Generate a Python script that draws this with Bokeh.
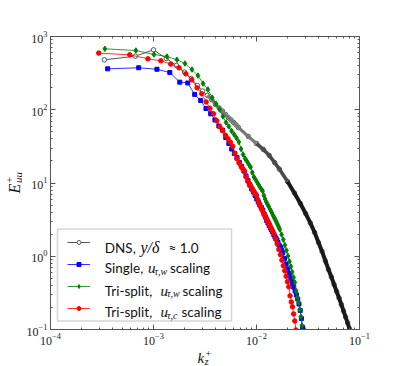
import math
from bokeh.plotting import figure
from bokeh.layouts import row, column
from bokeh.models import (LogAxis, LogTicker, Label, BoxAnnotation, Legend, LegendItem,
                          CustomJSTickFormatter)
from bokeh.embed import file_html
from bokeh.resources import INLINE

# ---------------- data ----------------
dns_k = [3.33e-4, 6.67e-4, 1.0e-3, 1.33e-3, 1.67e-3, 2.0e-3, 2.33e-3, 2.67e-3, 3.0e-3, 3.33e-3,
         3.67e-3, 4.0e-3, 4.33e-3, 4.67e-3, 5.0e-3, 5.33e-3, 5.67e-3, 6.0e-3, 6.33e-3, 6.67e-3,
         8.33e-3, 0.01, 0.01167, 0.01333, 0.015, 0.01667, 0.02, 0.02333, 0.02667, 0.03,
         0.03333, 0.03667, 0.04, 0.04333, 0.04667, 0.05, 0.05333, 0.05667, 0.06, 0.06333,
         0.06667, 0.07, 0.07333, 0.07667, 0.08, 0.08333]
dns_E = [481, 538, 658, 501, 402, 327, 267, 214, 180, 157,
         138, 118, 106, 96, 86, 78, 72.4, 67, 62, 57.3,
         43.2, 34.6, 28.7, 23.7, 19.0, 15.5, 10.5, 7.30, 5.25, 3.83,
         2.85, 2.11, 1.54, 1.16, 0.861, 0.659, 0.521, 0.411, 0.330, 0.269,
         0.219, 0.179, 0.148, 0.123, 0.102, 0.0855]

single_k = [3.59e-4, 7.18e-4, 1.08e-3, 1.44e-3, 1.80e-3, 2.15e-3, 2.51e-3, 2.87e-3, 3.23e-3, 3.59e-3,
            3.95e-3, 4.31e-3, 4.67e-3, 5.03e-3, 5.39e-3, 5.74e-3, 6.10e-3, 6.46e-3, 6.82e-3, 7.18e-3,
            7.54e-3, 7.90e-3, 8.26e-3, 8.62e-3, 8.98e-3, 9.33e-3, 9.69e-3, 1.005e-2, 1.041e-2, 1.077e-2,
            1.113e-2, 1.149e-2, 1.185e-2, 1.221e-2, 1.257e-2, 1.292e-2, 1.328e-2, 1.364e-2, 1.400e-2, 1.436e-2,
            1.472e-2, 1.508e-2, 1.544e-2, 1.580e-2, 1.616e-2, 1.651e-2, 1.687e-2, 1.723e-2, 1.759e-2, 1.795e-2,
            1.867e-2, 1.939e-2, 2.010e-2, 2.082e-2, 2.154e-2, 2.226e-2, 2.298e-2, 2.369e-2, 2.441e-2, 2.513e-2,
            2.585e-2, 2.657e-2, 2.728e-2, 2.800e-2]
single_E = [362, 374, 357, 322, 238, 232, 162, 134, 104, 88.0,
            72.5, 60.0, 52.9, 41.8, 34.6, 29.1, 25.3, 22.3, 19.1, 16.8,
            14.6, 12.5, 10.8, 9.39, 8.28, 7.54, 6.75, 6.05, 5.50, 5.01,
            4.63, 4.28, 3.77, 3.43, 3.08, 2.84, 2.63, 2.43, 2.28, 2.14,
            1.98, 1.86, 1.75, 1.67, 1.54, 1.42, 1.36, 1.30, 1.20, 1.11,
            0.932, 0.784, 0.670, 0.582, 0.505, 0.438, 0.380, 0.335, 0.296, 0.261,
            0.223, 0.182, 0.141, 0.107]

triw_k = [3.37e-4, 6.74e-4, 1.01e-3, 1.35e-3, 1.69e-3, 2.02e-3, 2.36e-3, 2.70e-3, 3.03e-3, 3.37e-3,
          3.71e-3, 4.04e-3, 4.38e-3, 4.72e-3, 5.06e-3, 5.39e-3, 5.73e-3, 6.07e-3, 6.40e-3, 6.74e-3,
          7.08e-3, 7.41e-3, 7.75e-3, 8.09e-3, 8.43e-3, 8.76e-3, 9.10e-3, 9.44e-3, 9.77e-3, 1.011e-2,
          1.045e-2, 1.078e-2, 1.112e-2, 1.146e-2, 1.180e-2, 1.213e-2, 1.247e-2, 1.281e-2, 1.314e-2, 1.348e-2,
          1.382e-2, 1.415e-2, 1.449e-2, 1.483e-2, 1.517e-2, 1.550e-2, 1.584e-2, 1.618e-2, 1.651e-2, 1.685e-2,
          1.752e-2, 1.820e-2, 1.887e-2, 1.955e-2, 2.022e-2, 2.089e-2, 2.157e-2, 2.224e-2, 2.292e-2, 2.359e-2,
          2.426e-2, 2.494e-2, 2.561e-2, 2.629e-2, 2.696e-2, 2.763e-2]
triw_E = [679, 644, 568, 533, 481, 428, 354, 293, 228, 189,
          147, 120.5, 100.8, 80.9, 67.0, 59.1, 51.3, 45.9, 41.1, 36.3,
          29.1, 24.5, 21.6, 19.7, 17.9, 16.5, 13.9, 12.1, 11.2, 10.3,
          9.54, 8.82, 8.28, 7.78, 6.75, 6.05, 5.50, 5.09, 4.78, 4.42,
          4.15, 3.89, 3.60, 3.38, 3.18, 2.98, 2.80, 2.63, 2.47, 2.32,
          1.98, 1.69, 1.42, 1.20, 1.01, 0.848, 0.724, 0.610, 0.513, 0.438,
          0.330, 0.273, 0.234, 0.187, 0.150, 0.113]

tric_k = [2.94e-4, 5.88e-4, 8.83e-4, 1.18e-3, 1.47e-3, 1.77e-3, 2.06e-3, 2.35e-3, 2.65e-3, 2.94e-3,
          3.24e-3, 3.53e-3, 3.82e-3, 4.12e-3, 4.41e-3, 4.71e-3, 5.00e-3, 5.30e-3, 5.59e-3, 5.88e-3,
          6.18e-3, 6.47e-3, 6.77e-3, 7.06e-3, 7.36e-3, 7.65e-3, 7.94e-3, 8.24e-3, 8.53e-3, 8.83e-3,
          9.12e-3, 9.41e-3, 9.71e-3, 1.000e-2, 1.030e-2, 1.059e-2, 1.089e-2, 1.118e-2, 1.147e-2, 1.177e-2,
          1.206e-2, 1.236e-2, 1.265e-2, 1.295e-2, 1.324e-2, 1.353e-2, 1.383e-2, 1.412e-2, 1.442e-2, 1.471e-2,
          1.530e-2, 1.589e-2, 1.648e-2, 1.706e-2, 1.765e-2, 1.824e-2, 1.883e-2, 1.942e-2, 2.001e-2, 2.059e-2,
          2.118e-2, 2.177e-2, 2.236e-2, 2.295e-2, 2.354e-2, 2.412e-2]
tric_E = [593, 562, 496, 465, 420, 374, 309, 256, 199, 165,
          128, 105, 88.0, 70.6, 58.5, 51.6, 44.8, 40.1, 35.9, 31.7,
          25.4, 21.4, 18.9, 17.2, 15.6, 14.4, 12.1, 10.6, 9.78, 8.99,
          8.33, 7.70, 7.23, 6.79, 5.89, 5.28, 4.80, 4.44, 4.17, 3.86,
          3.62, 3.40, 3.14, 2.95, 2.78, 2.60, 2.44, 2.30, 2.16, 2.03,
          1.73, 1.48, 1.24, 1.05, 0.882, 0.740, 0.632, 0.533, 0.448, 0.382,
          0.288, 0.238, 0.204, 0.163, 0.131, 0.0986]

legend_names = ["DNS", "Single", "Tri-split", "Tri-split"]

# ---------------- geometry ----------------
LEFT_W = 22
MAIN_W = 377
BL, BR, BT, BB = 28, 40, 36, 18
MAIN_H = 329 + BB
BOTTOM_H = 366 - MAIN_H
FRAME_W = MAIN_W - BL - BR
PX_DEC = FRAME_W / 3.0

AX = "#555555"
SANS = "Lato"
SERIF = "Liberation Serif"
LSIZE = "13.5px"

# ---------------- main figure ----------------
p = figure(width=MAIN_W, height=MAIN_H, x_axis_type="log", y_axis_type="log",
           x_range=(1e-4, 1e-1), y_range=(1e-1, 1e3),
           output_backend="svg", toolbar_location=None,
           min_border_left=BL, min_border_right=BR, min_border_top=BT, min_border_bottom=BB)
p.grid.visible = False
p.outline_line_color = AX

xa = p.below[0]
ya = p.left[0]
top_ax = LogAxis(formatter=CustomJSTickFormatter(code="return ''"))
right_ax = LogAxis(formatter=CustomJSTickFormatter(code="return ''"))
p.add_layout(top_ax, "above")
p.add_layout(right_ax, "right")

for ax in [xa, ya, top_ax, right_ax]:
    ax.ticker = LogTicker(num_minor_ticks=10)
    ax.major_tick_in = 5
    ax.major_tick_out = 0
    ax.minor_tick_in = 2
    ax.minor_tick_out = 0
    ax.axis_line_color = AX
    ax.major_tick_line_color = AX
    ax.minor_tick_line_color = AX
    ax.major_label_text_font = SERIF
    ax.major_label_text_font_size = "12px"
    ax.major_label_text_color = "#222222"
    ax.major_label_standoff = 3
top_ax.major_label_standoff = 0
right_ax.major_label_standoff = 0

# ---------------- series ----------------
dns_line = p.line(dns_k, dns_E, line_color="#555555", line_width=1)
dns_pts = p.scatter(dns_k, dns_E, marker="circle", size=4.5, line_color="#555555",
                    fill_color="white", line_width=1)

def seg(lo, hi):
    ks = [k for k in dns_k if lo <= k <= hi]
    es = [e for k, e in zip(dns_k, dns_E) if lo <= k <= hi]
    return ks, es

k1, e1 = seg(3.3e-3, 0.0101)
k2, e2 = seg(0.0099, 0.0201)
k3, e3 = seg(0.0199, 1.0)
p.line(k1, e1, line_color="#7a7a7a", line_width=3.2)
p.line(k2, e2, line_color="#4a4a4a", line_width=3.6)
p.line(k3, e3, line_color="#1a1a1a", line_width=4)

s_line = p.line(single_k, single_E, line_color="#0000ff", line_width=1, line_alpha=0.8)
s_pts = p.scatter(single_k, single_E, marker="square", size=4, color="#0000ff")

w_line = p.line(triw_k, triw_E, line_color="#008000", line_width=1, line_alpha=0.8)
w_pts = p.scatter(triw_k, triw_E, marker="diamond", size=5.5, color="#008000")

c_line = p.line(tric_k, tric_E, line_color="#ff0000", line_width=1, line_alpha=0.8)
c_pts = p.scatter(tric_k, tric_E, marker="circle", size=4.5, color="#ff0000")

# ---------------- legend ----------------
box = BoxAnnotation(left=7, right=181, top=100.5, bottom=8.5,
                    left_units="screen", right_units="screen", top_units="screen", bottom_units="screen",
                    fill_color="white", fill_alpha=1, line_color="#777777", line_width=1.5,
                    level="annotation")
p.add_layout(box)

legend = Legend(items=[
    LegendItem(label=" ", renderers=[dns_line, dns_pts]),
    LegendItem(label=" ", renderers=[s_line, s_pts]),
    LegendItem(label=" ", renderers=[w_line, w_pts]),
    LegendItem(label=" ", renderers=[c_line, c_pts]),
], location=(17, 10.5), glyph_width=23, glyph_height=10, label_height=21, label_width=1,
    spacing=1, padding=0, margin=0, border_line_alpha=0, background_fill_alpha=0,
    label_standoff=0, label_text_font_size="1px")
p.add_layout(legend)


def lab(fig, x, y, text, font=SANS, size=LSIZE, style="normal", angle=0.0,
        x_units="screen", x_offset=0):
    fig.add_layout(Label(x=x, y=y, x_units=x_units, y_units="screen", text=text,
                         text_font=font, text_font_size=size, text_font_style=style,
                         text_color="#111111", text_baseline="alphabetic", text_align="left",
                         angle=angle, x_offset=x_offset))

rows_y = [81.9, 61.3, 38.9, 17.3]
lab(p, 54.3, rows_y[0], legend_names[0] + ",")
lab(p, 90, rows_y[0], "y/δ", SERIF, "16px", "italic")
lab(p, 118, rows_y[0], "≈ 1.0")

lab(p, 54.3, rows_y[1], legend_names[1] + ",")
lab(p, 97.5, rows_y[1], "u", SERIF, "15px", "italic")
lab(p, 104, rows_y[1] - 3, "τ,w", SERIF, "10px", "italic")
lab(p, 119.5, rows_y[1], "scaling")

lab(p, 54.3, rows_y[2], legend_names[2] + ",")
lab(p, 110, rows_y[2], "u", SERIF, "15px", "italic")
lab(p, 116.5, rows_y[2] - 3, "τ,w", SERIF, "10px", "italic")
lab(p, 132, rows_y[2], "scaling")

lab(p, 54.3, rows_y[3], legend_names[3] + ",")
lab(p, 110, rows_y[3], "u", SERIF, "15px", "italic")
lab(p, 116.5, rows_y[3] - 3, "τ,c", SERIF, "10px", "italic")
lab(p, 131, rows_y[3], "scaling")

# ---------------- left panel: y label ----------------
left = figure(width=LEFT_W, height=366, x_axis_location=None, y_axis_location=None,
              x_range=(0, 1), y_range=(0, 1), output_backend="svg", toolbar_location=None,
              min_border_left=0, min_border_right=0, min_border_top=0, min_border_bottom=0)
left.outline_line_color = None
left.grid.visible = False
lab(left, 14, 173, "E", SERIF, "16px", "italic", math.pi / 2)
lab(left, 8.5, 183.5, "+", SERIF, "11px", "normal", math.pi / 2)
lab(left, 17, 183.5, "uu", SERIF, "11px", "italic", math.pi / 2)

# ---------------- bottom panel: x label (frame aligned with main) ----------------
bottom = figure(width=MAIN_W, height=BOTTOM_H, x_axis_type="log", x_axis_location=None,
                y_axis_location=None, x_range=p.x_range, y_range=(0, 1),
                output_backend="svg", toolbar_location=None,
                min_border_left=BL, min_border_right=BR, min_border_top=0, min_border_bottom=0)
bottom.outline_line_color = None
bottom.grid.visible = False
k_pos = 10 ** (-4 + 147 / PX_DEC)
lab(bottom, k_pos, 9, "k", SERIF, "15px", "italic", x_units="data")
lab(bottom, k_pos, 13, "+", SERIF, "10px", "normal", x_units="data", x_offset=8)
lab(bottom, k_pos, 5, "z", SERIF, "10.5px", "italic", x_units="data", x_offset=7)

layout = row(left, column(p, bottom, spacing=0), spacing=0)

open("out.html", "w").write(file_html(layout, INLINE))
